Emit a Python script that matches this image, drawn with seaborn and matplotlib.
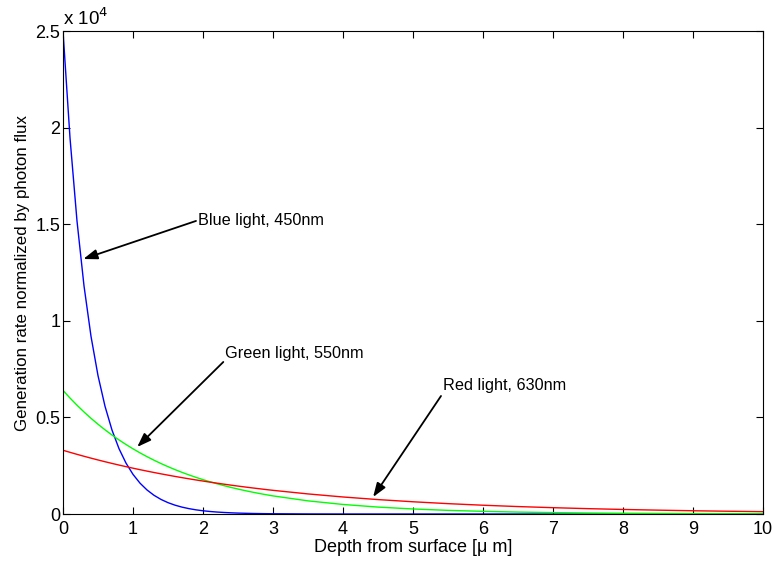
import numpy as np
import pandas as pd
import matplotlib
matplotlib.use("Agg")
import matplotlib.pyplot as plt
import seaborn as sns

# Profondeur (um) et taux de génération
depth = [0, 0.1, 0.2, 0.3, 0.4, 0.5, 0.6, 0.7, 0.8, 0.9, 1.0, 1.1, 1.2, 1.3, 1.4,
         1.5, 1.6, 1.7, 1.8, 1.9, 2.0, 2.1, 2.2, 2.3, 2.4, 2.5, 2.6, 2.7, 2.8, 2.9,
         3.0, 3.5, 4.0, 4.5, 5.0, 5.5, 6.0, 6.5, 7.0, 7.5, 8.0, 8.5, 9.0, 9.5, 10.0]

blue = [25000, 19470, 15163, 11809, 9197, 7163, 5578, 4344, 3383, 2635, 2052, 1598,
        1245, 969, 755, 588, 458, 357, 278, 216, 168, 131, 102, 80, 62, 48, 38, 29,
        23, 18, 14, 4, 1, 0, 0, 0, 0, 0, 0, 0, 0, 0, 0, 0, 0]

green = [6400, 6003, 5631, 5282, 4954, 4647, 4359, 4089, 3835, 3598, 3375, 3165,
         2969, 2785, 2612, 2451, 2299, 2156, 2023, 1897, 1779, 1669, 1566, 1469,
         1377, 1292, 1212, 1137, 1066, 1000, 938, 681, 495, 359, 261, 189, 138,
         100, 73, 53, 38, 28, 20, 15, 11]

red = [3300, 3193, 3089, 2989, 2892, 2798, 2707, 2619, 2534, 2452, 2372, 2295,
       2221, 2149, 2079, 2012, 1946, 1883, 1822, 1763, 1706, 1650, 1597, 1545,
       1495, 1446, 1399, 1354, 1310, 1267, 1226, 1040, 882, 747, 634, 537, 455,
       386, 328, 278, 236, 200, 169, 144, 122]

labels = ["Blue light, 450nm", "Green light, 550nm", "Red light, 630nm"]
x_ticks = list(range(0, 11))
y_ticks = [0, 5000, 10000, 15000, 20000, 25000]
y_tick_labels = ["0", "0.5", "1", "1.5", "2", "2.5"]

# Dataframe long
df = pd.concat([
    pd.DataFrame({"depth": depth, "G": blue, "light": "blue"}),
    pd.DataFrame({"depth": depth, "G": green, "light": "green"}),
    pd.DataFrame({"depth": depth, "G": red, "light": "red"}),
])

sns.set_theme(style="white")
plt.rcParams["font.family"] = ["Liberation Sans", "DejaVu Sans"]
plt.rcParams["text.color"] = "black"
plt.rcParams["axes.labelcolor"] = "black"
plt.rcParams["xtick.color"] = "black"
plt.rcParams["ytick.color"] = "black"

fig = plt.figure(figsize=(7.74, 5.63), dpi=100)
ax = fig.add_axes([0.0814, 0.087, 0.9044, 0.8579])

sns.lineplot(data=df, x="depth", y="G", hue="light",
             palette={"blue": "#0000ff", "green": "#00ff00", "red": "#ff0000"},
             linewidth=1.0, legend=False, ax=ax, sort=False)

ax.set_xlim(0, 10)
ax.set_ylim(0, 25000)
ax.set_xticks(x_ticks)
ax.set_xticklabels([str(t) for t in x_ticks], fontsize=13)
ax.set_yticks(y_ticks)
ax.set_yticklabels(y_tick_labels, fontsize=13)
ax.tick_params(axis="both", which="both", direction="in", length=5, width=0.8,
               top=True, right=True, bottom=True, left=True, colors="black")
ax.tick_params(axis="x", pad=5)
ax.tick_params(axis="y", pad=2)
for s in ax.spines.values():
    s.set_color("black")
    s.set_linewidth(0.8)

ax.set_xlabel("Depth from surface [\u03bc m]", fontsize=13, labelpad=1)
ax.set_ylabel("Generation rate normalized by photon flux", fontsize=12.2, labelpad=4)
ax.text(0.0, 1.004, "x 10$^4$", transform=ax.transAxes, fontsize=13.5,
        ha="left", va="bottom")

# Annotations avec flèches
arrows = [
    ((1.90, 15170), (0.29, 13200), (1.93, 15170)),
    ((2.29, 7870), (1.06, 3470), (2.31, 8330)),
    ((5.40, 6110), (4.43, 880), (5.43, 6630)),
]
for lab, (tail, head, txt) in zip(labels, arrows):
    ax.annotate("", xy=head, xytext=tail,
                arrowprops=dict(arrowstyle="-|>,head_length=0.7,head_width=0.25",
                                color="black", lw=1.3, shrinkA=0, shrinkB=0))
    ax.text(txt[0], txt[1], lab, fontsize=11.7, ha="left", va="center")

plt.savefig("out.png", dpi=100)
